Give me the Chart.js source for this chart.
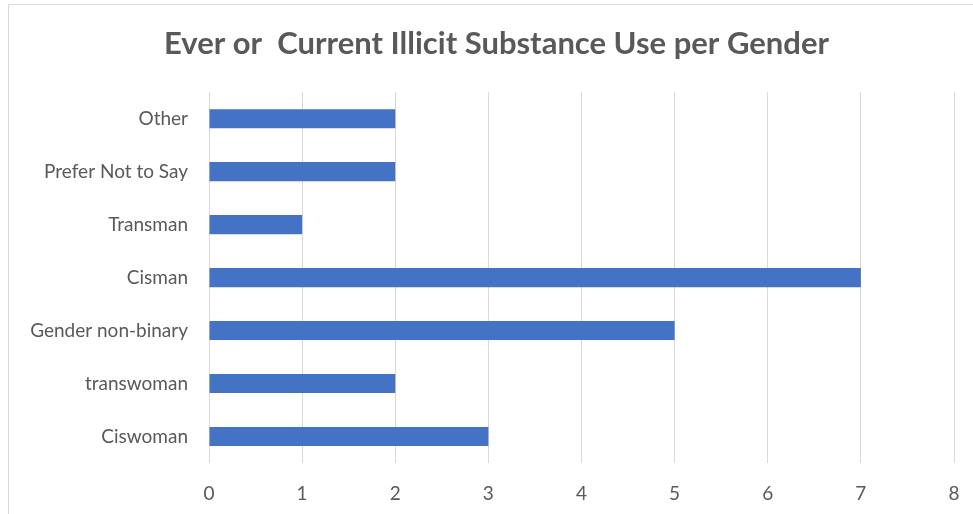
<!DOCTYPE html>
<html>
<head>
<meta charset="utf-8">
<title>Ever or Current Illicit Substance Use per Gender</title>
<script src="https://cdn.jsdelivr.net/npm/chart.js@4.4.0/dist/chart.umd.min.js"></script>
<style>
  html, body { margin: 0; padding: 0; background: #ffffff; }
  canvas { display: block; }
</style>
</head>
<body>
<canvas id="genderChart" width="973" height="514"></canvas>
<script>
const genders = ['Other', 'Prefer Not to Say', 'Transman', 'Cisman', 'Gender non-binary', 'transwoman', 'Ciswoman'];
const counts = [2, 2, 1, 7, 5, 2, 3];
const xTicks = [0, 1, 2, 3, 4, 5, 6, 7, 8];

const textGray = '#595959';
const gridGray = '#d9d9d9';

// thin frame round the whole chart
const frame = {
  id: 'frame',
  beforeDraw(chart) {
    const ctx = chart.ctx;
    ctx.save();
    ctx.fillStyle = '#ffffff';
    ctx.fillRect(0, 0, chart.width, chart.height);
    ctx.strokeStyle = gridGray;
    ctx.lineWidth = 1;
    ctx.strokeRect(8.5, 4.5, chart.width + 20, chart.height + 20);
    ctx.restore();
  }
};

const config = {
  type: 'bar',
  data: {
    labels: genders,
    datasets: [{
      label: 'Count',
      data: counts,
      backgroundColor: '#4472c4',
      borderWidth: 0,
      categoryPercentage: 1,
      barPercentage: 0.36
    }]
  },
  options: {
    indexAxis: 'y',
    responsive: false,
    animation: false,
    layout: { padding: { left: 20, right: 0, top: 0, bottom: 0 } },
    plugins: {
      legend: { display: false },
      tooltip: { enabled: false },
      title: {
        display: true,
        text: 'Ever or  Current Illicit Substance Use per Gender',
        color: textGray,
        font: { family: 'Lato', size: 31, weight: 'bold' },
        padding: { top: 25, bottom: 30 }
      }
    },
    scales: {
      x: {
        min: 0,
        max: 8,
        afterBuildTicks(scale) {
          scale.ticks = xTicks.map(v => ({ value: v }));
        },
        grid: { color: gridGray, lineWidth: 1, drawTicks: false },
        border: { display: false },
        ticks: {
          color: textGray,
          font: { family: 'Lato', size: 19 },
          padding: 19
        },
        afterFit(scale) {
          scale.height = 51;
          scale.paddingLeft = 0;
          scale.paddingRight = 19;
        }
      },
      y: {
        grid: { display: false, drawTicks: false },
        border: { display: false },
        ticks: {
          color: textGray,
          font: { family: 'Lato', size: 19 },
          padding: 21
        },
        afterFit(scale) { scale.width = 189; }
      }
    }
  },
  plugins: [frame]
};

new Chart(document.querySelector('#genderChart').getContext('2d'), config);
</script>
</body>
</html>
